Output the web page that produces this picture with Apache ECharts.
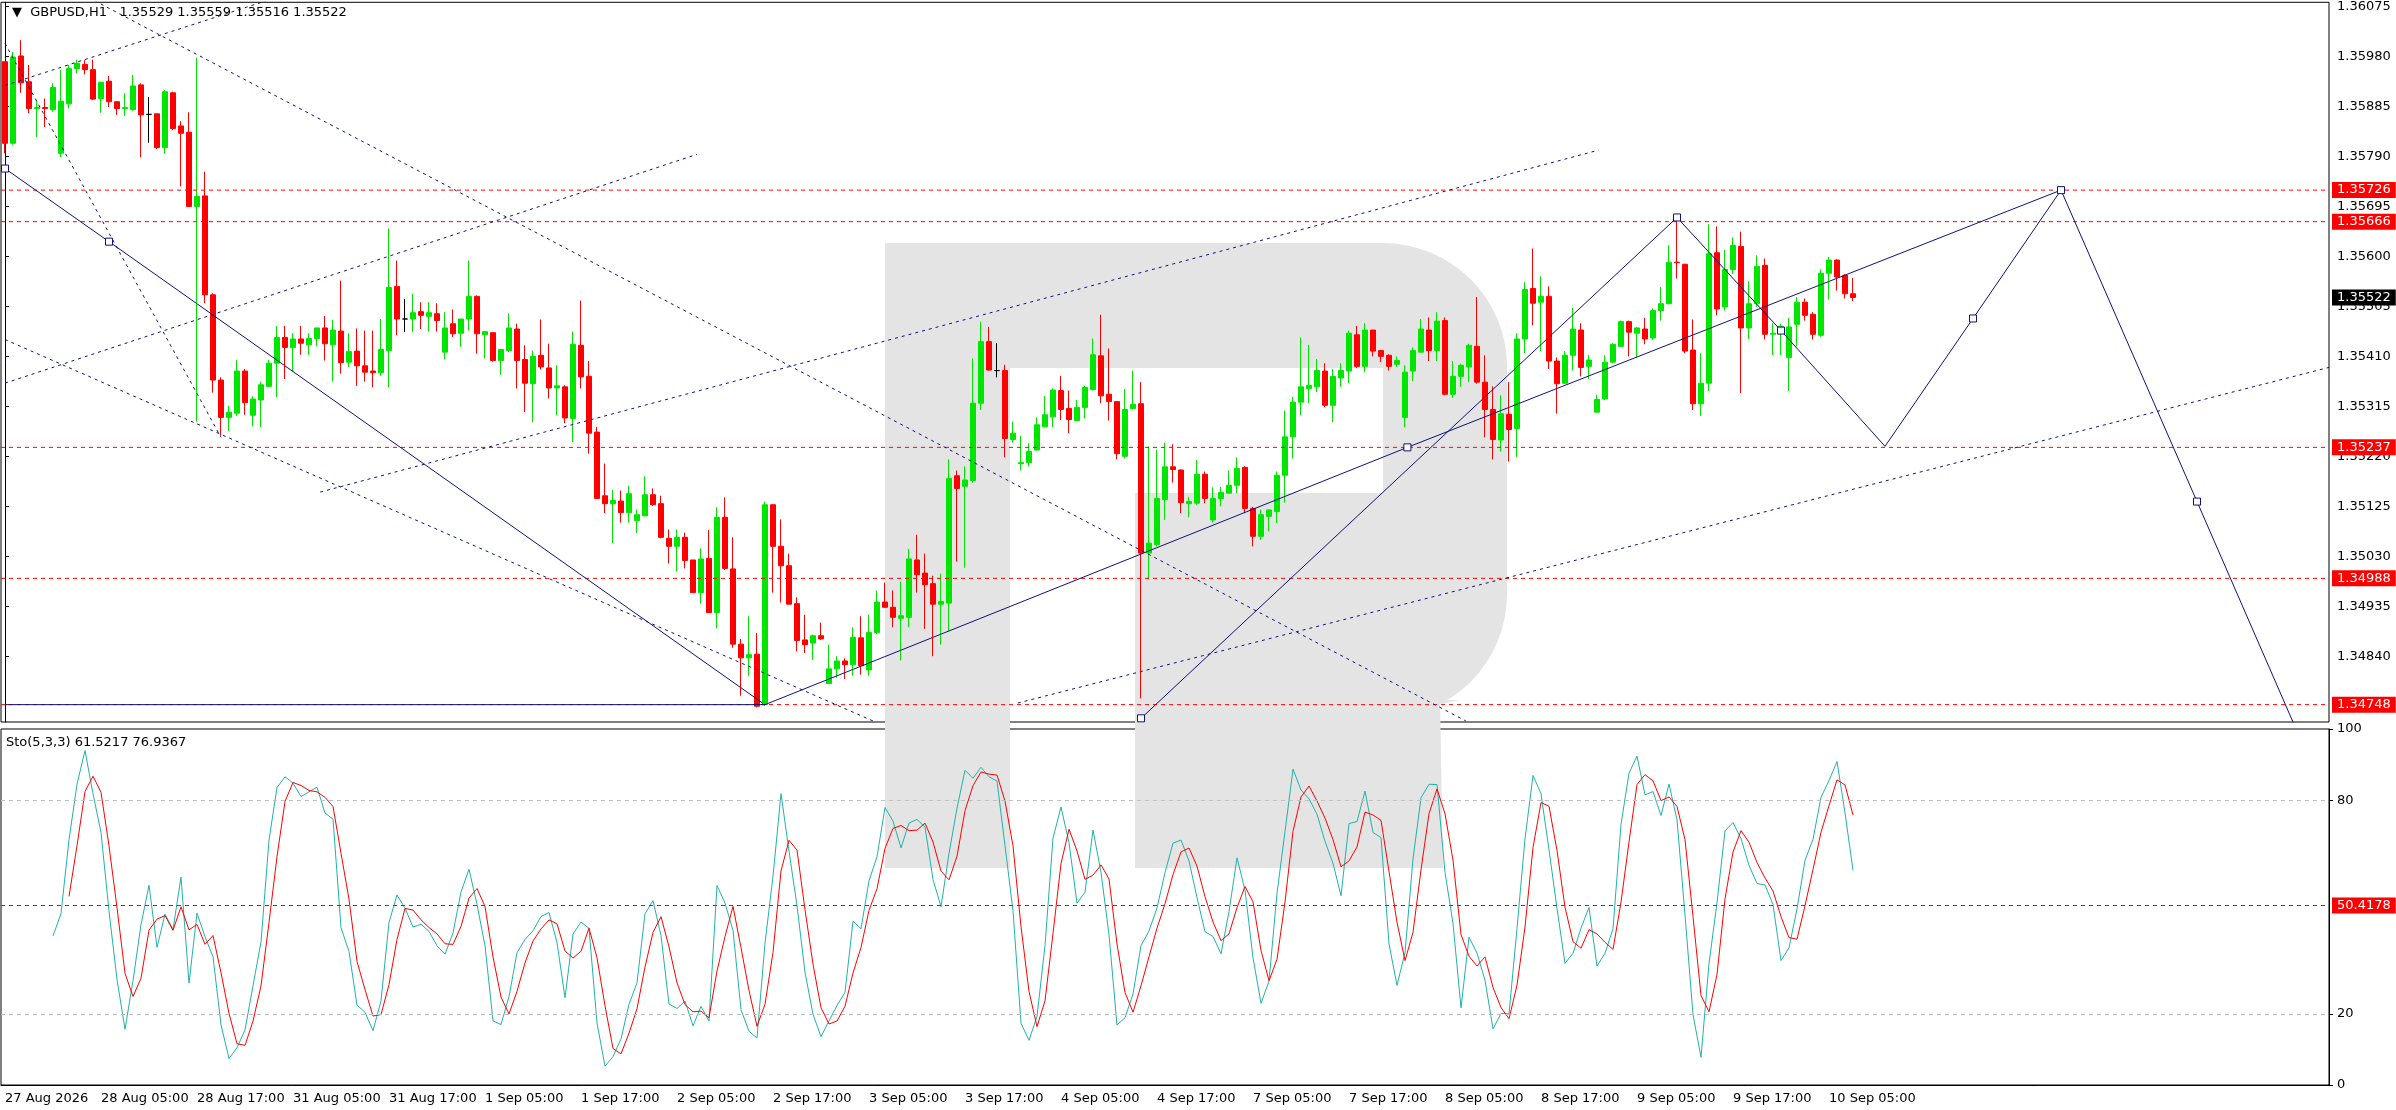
<!DOCTYPE html>
<html>
<head>
    <meta charset="utf-8">
    <script src="https://cdnjs.cloudflare.com/ajax/libs/echarts/6.0.0/echarts.min.js"></script>
</head>
<body>
    <div id="main"></div>
    <style>
html,body,#main { height: 100%; margin: 0; padding: 0; background: #fff; }
    </style>
    <script type="text/javascript">
// H1 candles, prices in points (1e-5)
var opens = [135970,135815,135981,135932,135881,135883,135879,135796,135890,135957,
135965,135955,135900,135933,135894,135881,135879,135926,135870,135871,
135807,135911,135848,135836,135695,135715,135527,135365,135294,135302,
135382,135298,135327,135353,135397,135446,135427,135443,135432,135444,
135464,135432,135458,135399,135420,135392,135382,135379,135421,135543,
135481,135481,135495,135486,135491,135418,135472,135454,135481,135524,
135451,135455,135402,135421,135462,135404,135358,135412,135388,135350,
135352,135292,135431,135372,135266,135145,135130,135135,135113,135098,
135107,135147,135130,135064,135049,135066,135023,134961,135026,134923,
135104,135006,134863,134837,134844,134748,135128,135049,135012,134940,
134871,134865,134879,134788,134816,134831,134824,134875,134814,134885,
134943,134933,134912,134914,135023,134998,134978,134939,134941,135183,
135163,135174,135321,135438,135383,135383,135252,135206,135208,135232,
135276,135295,135345,135311,135288,135313,135347,135411,135338,135324,
135220,135311,135320,135036,135052,135138,135200,135194,135130,135131,
135186,135099,135140,135150,135165,135199,135121,135068,135106,135115,
135184,135257,135323,135349,135352,135382,135317,135369,135382,135451,
135391,135460,135421,135412,135395,135294,135382,135418,135460,135421,
135478,135338,135372,135390,135429,135361,135309,135251,135300,135273,
135443,135539,135513,135524,135401,135359,135412,135460,135391,135304,
135329,135399,135429,135476,135454,135462,135445,135497,135510,135589,
135585,135422,135320,135359,135607,135504,135575,135619,135464,135510,
135583,135452,135460,135408,135471,135513,135490,135450,135568,135593,
135564,135529];
var closes = [135815,135979,135930,135881,135883,135881,135921,135895,135957,135967,
135955,135899,135931,135894,135881,135883,135924,135869,135870,135807,
135913,135843,135834,135695,135714,135527,135365,135294,135304,135382,
135322,135329,135356,135397,135446,135427,135443,135435,135444,135464,
135434,135460,135398,135419,135392,135380,135379,135423,135541,135481,
135481,135493,135488,135493,135478,135464,135453,135481,135524,135453,
135457,135402,135423,135464,135402,135359,135410,135390,135350,135354,
135293,135433,135371,135264,135140,135130,135136,135113,135149,135109,
135147,135128,135066,135049,135066,135022,134961,135025,134923,135104,
135007,134863,134837,134843,134745,135128,135049,135012,134939,134870,
134862,134879,134873,134816,134831,134824,134876,134822,134885,134943,
134933,134914,134917,135025,134995,134976,134939,134944,135178,135159,
135175,135321,135438,135384,135383,135254,135264,135208,135229,135280,
135299,135346,135309,135290,135313,135351,135413,135335,135324,135225,
135309,135319,135036,135055,135140,135200,135195,135132,135134,135186,
135140,135140,135151,135165,135197,135121,135068,135109,135118,135184,
135257,135323,135352,135355,135383,135317,135372,135383,135454,135391,
135460,135420,135410,135391,135402,135380,135421,135462,135421,135477,
135338,135372,135393,135431,135361,135309,135252,135301,135271,135443,
135537,135511,135524,135401,135358,135412,135462,135389,135403,135328,
135399,135433,135476,135456,135464,135443,135497,135510,135589,135588,
135420,135320,135359,135605,135500,135575,135621,135464,135510,135581,
135452,135454,135467,135466,135513,135488,135452,135568,135593,135561,
135529,135522];
var highs = [135970,135989,136011,135964,135897,135900,135929,135954,135964,135974,
135973,135974,135931,135943,135894,135910,135945,135929,135903,135871,
135916,135913,135857,135874,135978,135761,135530,135370,135316,135403,
135386,135334,135362,135403,135468,135468,135454,135468,135454,135464,
135487,135479,135554,135454,135463,135459,135459,135481,135653,135592,
135519,135529,135513,135513,135511,135494,135499,135481,135592,135526,
135457,135455,135423,135492,135472,135431,135421,135480,135434,135393,
135355,135457,135516,135401,135276,135206,135156,135155,135164,135119,
135182,135159,135145,135081,135081,135075,135023,135045,135080,135123,
135142,135066,134873,134916,134884,135134,135128,135100,135035,134952,
134919,134881,134904,134862,134840,134836,134895,134916,134919,134965,
134980,134965,134982,135044,135071,135035,134993,134997,135214,135193,
135201,135406,135476,135466,135435,135394,135286,135259,135245,135294,
135335,135349,135373,135345,135327,135354,135444,135489,135425,135324,
135348,135383,135361,135239,135232,135246,135243,135195,135143,135213,
135191,135161,135162,135193,135218,135201,135124,135119,135119,135191,
135307,135333,135446,135432,135405,135397,135386,135397,135459,135468,
135473,135460,135422,135414,135410,135393,135427,135481,135484,135494,
135484,135401,135396,135434,135523,135412,135353,135336,135361,135454,
135551,135615,135562,135543,135408,135420,135502,135473,135413,135337,
135412,135435,135478,135478,135466,135483,135501,135542,135621,135674,
135586,135480,135416,135661,135657,135612,135636,135647,135553,135602,
135596,135473,135472,135483,135523,135520,135494,135575,135599,135594,
135566,135559];
var lows = [135796,135812,135911,135872,135827,135846,135875,135789,135881,135948,
135946,135897,135873,135884,135869,135867,135877,135788,135816,135804,
135795,135840,135733,135695,135286,135511,135341,135259,135268,135297,
135299,135277,135275,135353,135332,135367,135381,135413,135413,135429,
135402,135362,135377,135390,135354,135362,135351,135373,135351,135450,
135456,135456,135462,135457,135457,135404,135447,135428,135459,135415,
135406,135400,135375,135418,135349,135304,135285,135385,135330,135298,
135283,135247,135349,135225,135140,135112,135055,135094,135094,135074,
135106,135126,135064,135016,135001,135007,134960,134940,134922,134893,
135004,134856,134765,134802,134743,134746,134961,134942,134939,134849,
134846,134833,134871,134788,134799,134797,134803,134805,134803,134882,
134933,134895,134832,134895,134961,134892,134840,134862,134887,135020,
135008,135170,135308,135383,135370,135218,135246,135193,135201,135231,
135275,135275,135289,135264,135288,135292,135345,135321,135288,135214,
135216,135309,134760,134986,135049,135099,135170,135112,135104,135128,
135131,135094,135125,135150,135150,135112,135049,135061,135077,135093,
135132,135216,135298,135321,135342,135313,135285,135352,135359,135388,
135380,135410,135399,135383,135390,135275,135363,135418,135401,135401,
135336,135331,135352,135361,135358,135256,135214,135229,135210,135219,
135416,135469,135420,135386,135301,135358,135383,135372,135367,135304,
135327,135397,135428,135410,135408,135433,135441,135478,135509,135558,
135416,135308,135297,135344,135488,135497,135567,135340,135443,135504,
135442,135412,135412,135344,135429,135478,135442,135447,135518,135535,
135520,135515];

var tickLabels = ['27 Aug 2026','28 Aug 05:00','28 Aug 17:00','31 Aug 05:00','31 Aug 17:00',
    '1 Sep 05:00','1 Sep 17:00','2 Sep 05:00','2 Sep 17:00','3 Sep 05:00','3 Sep 17:00',
    '4 Sep 05:00','4 Sep 17:00','7 Sep 05:00','7 Sep 17:00','8 Sep 05:00','8 Sep 17:00',
    '9 Sep 05:00','9 Sep 17:00','10 Sep 05:00'];
var priceTicks = [1.34840,1.34935,1.35030,1.35125,1.35220,1.35315,1.35410,1.35505,
    1.35600,1.35695,1.35790,1.35885,1.35980,1.36075];
var levels = [1.35726, 1.35666, 1.35237, 1.34988, 1.34748];
var lastPrice = 1.35522;
var stoLevel = 50.4178;

// analysis drawings: [bar, price]; true = square marker
var channelLine = [[0,1.35767,true],[13,1.35628,true],[94.7,1.34751]];
var bottomLine = [[0,1.34748],[95,1.34748]];
var riseLine = [[95,1.34748],[175.3,1.35237,true],[257,1.35726]];
var forecast = [[142,1.34722,true],[209,1.35674,true],[222,1.35459,true],[235,1.35239],
    [246,1.35482,true],[257,1.35726,true],[274,1.35134,true],[287,1.34680]];
var dotted = [
    [[0,1.35359],[86.5,1.35794]],
    [[0,1.35925],[40,1.36122]],
    [[11.2,1.36086],[182.6,1.34717]],
    [[0,1.36005],[27,1.35256]],
    [[0,1.35442],[108.5,1.34717]],
    [[39.4,1.35152],[199.2,1.35802]],
    [[126.6,1.34751],[290.5,1.35389]]
];

var SLOTS = 291;
var cats = [];
for (var i = 0; i < SLOTS; i++) cats.push(i % 12 === 0 && i / 12 < tickLabels.length ? tickLabels[i / 12] : '');

var candles = opens.map(function (o, i) {
    return [o / 1e5, closes[i] / 1e5, lows[i] / 1e5, highs[i] / 1e5];
});

// Sto(5,3,3)
var K = [], D = [];
var part = opens.map(function (o, i) {
    if (i < 4) return null;
    var hh = Math.max.apply(null, highs.slice(i - 4, i + 1));
    var ll = Math.min.apply(null, lows.slice(i - 4, i + 1));
    return [closes[i] - ll, hh - ll];
});
for (var i = 0; i < opens.length; i++) {
    if (i < 6) { K.push(null); continue; }
    var n = 0, d = 0;
    for (var j = i - 2; j <= i; j++) { n += part[j][0]; d += part[j][1]; }
    K.push(d ? 100 * n / d : 50);
}
for (var i = 0; i < K.length; i++) {
    if (i < 8) { D.push(null); continue; }
    D.push((K[i] + K[i - 1] + K[i - 2]) / 3);
}

var navy = '#10107a';
function drawLine(points, dashed) {
    return {
        type: 'line', xAxisIndex: 1, yAxisIndex: 0, silent: true, animation: false,
        symbol: 'rect', symbolSize: 7, z: 5,
        itemStyle: { color: '#fff', borderColor: navy, borderWidth: 1 },
        lineStyle: { color: navy, width: 1, type: dashed ? [3, 4] : 'solid' },
        data: points.map(function (p) {
            return { value: [p[0], p[1]], symbol: p[2] ? 'rect' : 'none' };
        })
    };
}

var font = 'DejaVu Sans';

// horizontal level with its price tag on the right axis
function levelLine(v, bg, hideLine) {
    return {
        type: 'line', xAxisIndex: 1, yAxisIndex: 0, silent: true, animation: false,
        symbol: 'none', z: 4,
        lineStyle: { color: '#ff0000', width: 1, type: [4, 4], opacity: hideLine ? 0 : 1 },
        data: [[-0.5, v], [SLOTS - 0.5, v]],
        endLabel: { show: true, formatter: v.toFixed(5), backgroundColor: bg, color: '#fff',
            distance: 3, padding: [2, 5, 1, 5], fontFamily: font, fontSize: 13 }
    };
}

var series = [{
    type: 'candlestick', xAxisIndex: 0, yAxisIndex: 0, data: candles, barWidth: 5,
    animation: false, z: 3,
    itemStyle: { color: '#00e600', color0: '#ff0000', borderColor: '#00e600',
        borderColor0: '#ff0000', borderColorDoji: '#000', borderWidth: 1 }
},
    drawLine(bottomLine), drawLine(channelLine), drawLine(riseLine), drawLine(forecast)
];
dotted.forEach(function (d) { series.push(drawLine(d, true)); });
levels.forEach(function (v) { series.push(levelLine(v, '#ff0000')); });
series.push(levelLine(lastPrice, '#000', true));
series.push({
    type: 'line', xAxisIndex: 2, yAxisIndex: 1, data: K, symbol: 'none', animation: false,
    lineStyle: { color: '#20b2aa', width: 1 },
    markLine: {
        silent: true, symbol: ['none', 'none'], animation: false,
        lineStyle: { color: '#c0c0c0', type: [4, 4], width: 1 },
        label: { show: false },
        data: [{ yAxis: 80 }, { yAxis: 20 },
            { yAxis: stoLevel, lineStyle: { color: '#ff0000' },
              label: { show: true, position: 'end', distance: 3, formatter: stoLevel.toFixed(4),
                backgroundColor: '#ff0000', color: '#fff', padding: [2, 5, 1, 5], fontFamily: font, fontSize: 13 } }]
    }
});
series.push({
    type: 'line', xAxisIndex: 2, yAxisIndex: 1, data: D, symbol: 'none', animation: false,
    lineStyle: { color: '#ff0000', width: 1 }
});

var grey = '#e4e4e4';
var option = {
    backgroundColor: '#fff',
    textStyle: { fontFamily: font },
    graphic: [
        { type: 'rect', z: 0, shape: { x: 885, y: 243, width: 125, height: 625 }, style: { fill: grey } },
        { type: 'rect', z: 0, shape: { x: 1009, y: 243, width: 375, height: 125 }, style: { fill: grey } },
        { type: 'rect', z: 0, shape: { x: 1383, y: 243, width: 124, height: 475, r: [0, 124, 124, 0] }, style: { fill: grey } },
        { type: 'rect', z: 0, shape: { x: 1135, y: 493, width: 249, height: 225 }, style: { fill: grey } },
        { type: 'polygon', z: 0, shape: { points: [[1135, 700], [1440, 700], [1443, 868], [1135, 868]] }, style: { fill: grey } },
        { type: 'polygon', z: 0, shape: { points: [[1383, 700], [1460, 700], [1375, 718]] }, style: { fill: grey } },
        { type: 'text', z: 10, left: 12, top: 6, style: { text: '\u25BC  GBPUSD,H1   1.35529 1.35559 1.35516 1.35522',
            font: '13px ' + font, fill: '#000' } },
        { type: 'text', z: 10, left: 6, top: 736, style: { text: 'Sto(5,3,3) 61.5217 76.9367',
            font: '13px ' + font, fill: '#000' } }
    ],
    grid: [
        { left: 1, right: 67, top: 2, height: 720, show: true, borderColor: '#000', borderWidth: 1 },
        { left: 1, right: 67, top: 729, height: 356, show: true, borderColor: '#000', borderWidth: 1 }
    ],
    xAxis: [
        { type: 'category', gridIndex: 0, data: cats, boundaryGap: true, show: false },
        { type: 'value', gridIndex: 0, min: -0.5, max: SLOTS - 0.5, show: false },
        { type: 'category', gridIndex: 1, data: cats, boundaryGap: true,
          axisLine: { lineStyle: { color: '#000' } },
          axisTick: { alignWithLabel: true, interval: function (i, v) { return v !== ''; }, length: 5, lineStyle: { color: '#000' } },
          axisLabel: { interval: function (i, v) { return v !== ''; }, align: 'left', margin: 7,
            fontSize: 13, color: '#000', fontFamily: font } }
    ],
    yAxis: [
        { type: 'value', gridIndex: 0, position: 'right', min: 1.34715, max: 1.36083, scale: true,
          splitLine: { show: false },
          axisLine: { show: true, lineStyle: { color: '#000' } },
          axisTick: { show: true, customValues: priceTicks, length: 4, lineStyle: { color: '#000' } },
          axisLabel: { customValues: priceTicks, margin: 8, fontSize: 13, color: '#000', fontFamily: font,
            formatter: function (v) { return v.toFixed(5); } } },
        { type: 'value', gridIndex: 1, position: 'right', min: 0, max: 100,
          splitLine: { show: false },
          axisLine: { show: true, lineStyle: { color: '#000' } },
          axisTick: { show: true, customValues: [0, 20, 80, 100], length: 4, lineStyle: { color: '#000' } },
          axisLabel: { customValues: [0, 20, 80, 100], margin: 8, fontSize: 13, color: '#000', fontFamily: font } }
    ],
    series: series
};
var chart = echarts.init(document.getElementById('main'));
chart.setOption(option);
    </script>
</body>
</html>
